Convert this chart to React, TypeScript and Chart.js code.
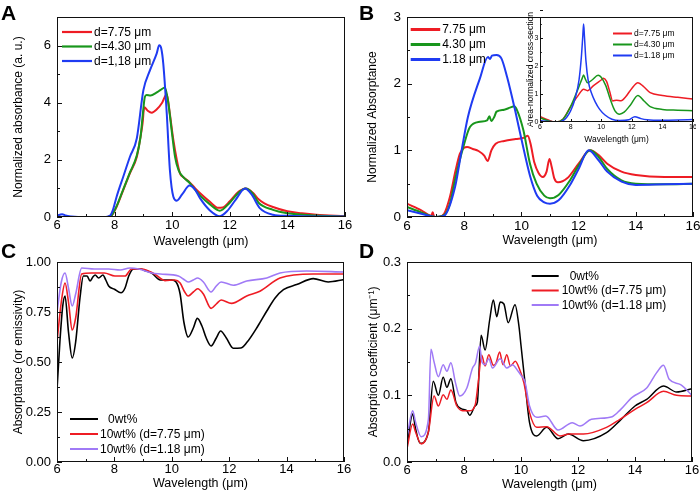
import React, { useEffect, useRef } from 'react';
import { Chart, registerables } from 'chart.js';
Chart.register(...registerables);

const FONT = '"Liberation Sans", Arial, Helvetica, sans-serif';
const RED = '#ee1c24';
const GREEN = '#18961c';
const BLUE = '#1f3bf2';
const PURPLE = '#a07af6';
const BLACK = '#000000';

// ---------- Panel A ----------
const aRedX = [6.0, 7.0, 7.75, 7.9, 8.07, 8.3, 8.53, 8.77, 8.88, 8.97, 9.03, 9.15, 9.29, 9.45, 9.65, 9.81, 9.92, 10.04, 10.16, 10.27, 10.4, 10.6, 10.8, 10.97, 11.3, 11.6, 11.75, 12.0, 12.3, 12.55, 12.8, 13.0, 13.2, 13.5, 14.0, 14.5, 15.0, 16.0];
const aRedY = [0.0, 0.0, 0.0, 0.06, 0.36, 0.94, 1.53, 2.1, 2.69, 3.27, 3.84, 3.72, 3.65, 3.75, 4.0, 4.3, 3.6, 2.7, 2.0, 1.53, 1.38, 1.22, 1.0, 0.83, 0.54, 0.32, 0.33, 0.55, 0.88, 1.0, 0.85, 0.62, 0.48, 0.35, 0.2, 0.13, 0.08, 0.03];
const aGreenX = [6.0, 7.0, 7.75, 7.9, 8.07, 8.3, 8.53, 8.77, 8.9, 8.98, 9.05, 9.11, 9.25, 9.45, 9.6, 9.75, 9.87, 9.98, 10.1, 10.22, 10.4, 10.6, 10.8, 10.97, 11.3, 11.65, 12.0, 12.3, 12.55, 12.8, 13.0, 13.5, 14.0, 15.0, 16.0];
const aGreenY = [0.0, 0.0, 0.0, 0.06, 0.38, 0.97, 1.55, 2.15, 2.8, 3.6, 4.2, 4.27, 4.25, 4.35, 4.45, 4.53, 3.95, 3.04, 2.1, 1.64, 1.38, 1.2, 0.95, 0.75, 0.45, 0.22, 0.5, 0.85, 1.0, 0.82, 0.5, 0.25, 0.13, 0.05, 0.02];
const aBlueX = [6.0, 6.1, 6.18, 6.3, 6.5, 7.0, 7.7, 7.85, 7.94, 8.07, 8.3, 8.53, 8.77, 9.0, 9.23, 9.46, 9.55, 9.62, 9.69, 9.81, 9.92, 10.04, 10.16, 10.35, 10.6, 10.8, 10.97, 11.3, 11.66, 11.9, 12.2, 12.53, 12.75, 13.05, 13.5, 14.0, 15.0, 16.0];
const aBlueY = [0.05, 0.08, 0.1, 0.05, 0.02, 0.0, 0.0, 0.05, 0.24, 0.71, 1.41, 2.1, 2.75, 4.44, 5.14, 5.72, 6.01, 5.9, 5.37, 3.64, 1.64, 0.71, 0.57, 0.8, 1.1, 0.95, 0.65, 0.24, 0.03, 0.2, 0.6, 1.0, 0.8, 0.3, 0.08, 0.04, 0.02, 0.02];
const aLabels = ['d=7.75 μm', 'd=4.30 μm', 'd=1,18 μm'];

// ---------- Panel B (main) ----------
const bRedX = [6.0, 6.5, 6.85, 6.9, 6.95, 7.1, 7.3, 7.5, 7.7, 7.85, 8.0, 8.1, 8.3, 8.5, 8.7, 8.82, 8.95, 9.1, 9.4, 9.8, 10.1, 10.22, 10.32, 10.45, 10.6, 10.75, 10.88, 10.98, 11.06, 11.15, 11.28, 11.6, 12.0, 12.4, 12.7, 13.0, 13.5, 14.0, 15.0, 16.0];
const bRedY = [0.2, 0.1, 0.02, 0.07, 0.0, 0.0, 0.05, 0.3, 0.7, 0.95, 1.04, 1.05, 1.02, 0.99, 0.92, 0.84, 1.0, 1.1, 1.14, 1.17, 1.19, 1.22, 1.1, 0.82, 0.66, 0.6, 0.68, 0.87, 0.75, 0.58, 0.52, 0.58, 0.8, 1.0, 0.93, 0.8, 0.68, 0.63, 0.6, 0.6];
const bGreenX = [6.0, 6.5, 7.0, 7.3, 7.5, 7.7, 7.97, 8.2, 8.55, 8.8, 8.88, 8.95, 9.05, 9.13, 9.4, 9.6, 9.75, 9.85, 10.07, 10.3, 10.53, 10.8, 11.0, 11.3, 11.7, 12.0, 12.4, 12.7, 13.0, 13.5, 14.0, 15.0, 16.0];
const bGreenY = [0.15, 0.07, 0.0, 0.03, 0.2, 0.6, 1.05, 1.35, 1.43, 1.45, 1.51, 1.44, 1.5, 1.58, 1.61, 1.64, 1.66, 1.6, 1.3, 0.8, 0.5, 0.32, 0.28, 0.33, 0.55, 0.77, 1.0, 0.9, 0.72, 0.55, 0.5, 0.49, 0.5];
const bBlueX = [6.0, 6.5, 7.0, 7.3, 7.68, 7.91, 8.13, 8.55, 8.83, 8.9, 8.97, 9.13, 9.3, 9.5, 9.78, 10.0, 10.3, 10.55, 10.8, 11.0, 11.3, 11.7, 12.0, 12.35, 12.7, 13.0, 13.5, 14.0, 15.0, 16.0];
const bBlueY = [0.1, 0.05, 0.0, 0.02, 0.45, 1.0, 1.5, 2.08, 2.4, 2.37, 2.42, 2.43, 2.38, 2.1, 1.6, 1.17, 0.62, 0.32, 0.22, 0.2, 0.25, 0.48, 0.72, 1.0, 0.85, 0.68, 0.53, 0.48, 0.49, 0.5];
const bLabels = ['7.75 μm', '4.30 μm', '1.18 μm'];

// ---------- Panel B (inset) ----------
const iRedX = [6.0, 6.5, 7.0, 7.5, 8.0, 8.5, 8.85, 9.1, 9.5, 10.0, 10.15, 10.35, 10.55, 10.75, 11.0, 11.3, 11.6, 12.0, 12.4, 12.8, 13.2, 14.0, 15.0, 16.0];
const iRedY = [0.2, 0.08, 0.0, 0.1, 0.55, 0.95, 1.17, 1.12, 1.3, 1.5, 1.56, 1.45, 1.1, 0.75, 0.78, 0.76, 0.9, 1.2, 1.4, 1.25, 1.05, 0.95, 0.88, 0.82];
const iGreenX = [6.0, 6.5, 7.0, 7.5, 8.0, 8.5, 8.75, 8.85, 8.95, 9.1, 9.4, 9.8, 10.0, 10.3, 10.6, 10.9, 11.2, 11.5, 11.9, 12.4, 12.8, 13.2, 14.0, 15.0, 16.0];
const iGreenY = [0.15, 0.05, 0.0, 0.1, 0.55, 1.2, 1.55, 1.68, 1.55, 1.4, 1.5, 1.67, 1.6, 1.3, 0.8, 0.4, 0.28, 0.35, 0.6, 0.95, 0.75, 0.55, 0.45, 0.42, 0.4];
const iBlueX = [6.0, 6.5, 7.0, 7.5, 8.0, 8.3, 8.55, 8.7, 8.8, 8.85, 8.9, 9.0, 9.16, 9.4, 9.6, 9.9, 10.25, 10.7, 11.2, 11.8, 12.2, 12.6, 13.0, 14.0, 15.0, 16.0];
const iBlueY = [0.05, 0.02, 0.0, 0.05, 0.4, 0.85, 1.5, 2.3, 3.1, 3.5, 3.1, 2.2, 1.44, 0.98, 0.73, 0.45, 0.25, 0.1, 0.05, 0.08, 0.19, 0.12, 0.08, 0.06, 0.07, 0.09];
const iLabels = ['d=7.75 μm', 'd=4.30 μm', 'd=1.18 μm'];

// ---------- Panel C ----------
const cBlackX = [6.0, 6.1, 6.2, 6.28, 6.4, 6.53, 6.65, 6.8, 6.92, 7.05, 7.15, 7.25, 7.33, 7.45, 7.6, 7.7, 7.8, 8.0, 8.23, 8.37, 8.5, 8.66, 8.9, 9.1, 9.3, 9.6, 10.0, 10.15, 10.29, 10.42, 10.57, 10.75, 10.89, 11.05, 11.2, 11.37, 11.55, 11.7, 11.9, 12.14, 12.4, 12.61, 13.0, 13.31, 13.6, 13.89, 14.35, 14.93, 15.45, 16.0];
const cBlackY = [0.36, 0.6, 0.78, 0.83, 0.65, 0.52, 0.6, 0.82, 0.93, 0.93, 0.905, 0.925, 0.935, 0.92, 0.935, 0.91, 0.88, 0.864, 0.846, 0.87, 0.93, 0.965, 0.965, 0.955, 0.945, 0.91, 0.91, 0.9, 0.84, 0.7, 0.625, 0.67, 0.718, 0.68, 0.62, 0.58, 0.62, 0.655, 0.62, 0.569, 0.57, 0.597, 0.68, 0.755, 0.82, 0.862, 0.887, 0.917, 0.9, 0.912];
const cRedX = [6.0, 6.15, 6.28, 6.4, 6.53, 6.65, 6.86, 7.2, 7.65, 8.02, 8.37, 8.6, 8.95, 9.4, 9.76, 10.1, 10.29, 10.45, 10.57, 10.75, 10.9, 11.1, 11.37, 11.55, 11.72, 12.08, 12.61, 13.07, 13.77, 14.93, 16.0];
const cRedY = [0.6, 0.8, 0.895, 0.8, 0.66, 0.72, 0.94, 0.945, 0.945, 0.93, 0.93, 0.965, 0.965, 0.94, 0.907, 0.91, 0.895, 0.85, 0.83, 0.85, 0.866, 0.84, 0.768, 0.79, 0.81, 0.793, 0.83, 0.854, 0.92, 0.94, 0.94];
const cPurpleX = [6.0, 6.15, 6.28, 6.4, 6.53, 6.65, 6.86, 7.3, 7.8, 8.2, 8.54, 8.85, 9.3, 9.6, 10.23, 10.4, 10.57, 10.75, 10.9, 11.1, 11.37, 11.55, 11.72, 12.14, 12.61, 13.31, 13.77, 14.7, 16.0];
const cPurpleY = [0.75, 0.9, 0.945, 0.87, 0.78, 0.84, 0.97, 0.965, 0.965, 0.96, 0.97, 0.965, 0.945, 0.94, 0.93, 0.915, 0.9, 0.91, 0.92, 0.9, 0.85, 0.88, 0.9, 0.884, 0.905, 0.92, 0.945, 0.955, 0.95];
const cdLabels = ['0wt%', '10wt% (d=7.75 μm)', '10wt% (d=1.18 μm)'];

// ---------- Panel D ----------
const dBlackX = [6.0, 6.2, 6.3, 6.46, 6.75, 6.92, 7.1, 7.27, 7.4, 7.54, 7.72, 7.9, 8.1, 8.2, 8.39, 8.47, 8.6, 8.74, 8.9, 9.03, 9.15, 9.27, 9.4, 9.55, 9.79, 9.93, 10.0, 10.14, 10.3, 10.55, 10.9, 11.3, 11.66, 12.19, 13.0, 13.47, 14.0, 14.41, 15.0, 15.46, 16.0];
const dBlackY = [0.024, 0.072, 0.05, 0.028, 0.045, 0.121, 0.1, 0.127, 0.112, 0.125, 0.089, 0.08, 0.077, 0.07, 0.084, 0.09, 0.19, 0.168, 0.213, 0.243, 0.218, 0.24, 0.237, 0.209, 0.236, 0.203, 0.175, 0.119, 0.059, 0.039, 0.052, 0.035, 0.042, 0.032, 0.044, 0.062, 0.084, 0.094, 0.114, 0.105, 0.11];
const dRedX = [6.0, 6.2, 6.3, 6.5, 6.75, 6.95, 7.1, 7.27, 7.4, 7.54, 7.75, 7.95, 8.2, 8.39, 8.5, 8.62, 8.74, 8.87, 9.03, 9.12, 9.25, 9.37, 9.5, 9.63, 9.8, 9.95, 10.1, 10.3, 10.55, 10.9, 11.37, 11.7, 12.19, 13.0, 13.47, 14.0, 14.41, 15.0, 15.46, 16.0];
const dRedY = [0.02, 0.057, 0.045, 0.027, 0.045, 0.099, 0.084, 0.101, 0.094, 0.108, 0.084, 0.077, 0.077, 0.085, 0.12, 0.16, 0.144, 0.161, 0.145, 0.148, 0.165, 0.146, 0.161, 0.144, 0.151, 0.139, 0.119, 0.074, 0.052, 0.053, 0.039, 0.042, 0.042, 0.052, 0.064, 0.079, 0.089, 0.106, 0.1, 0.099];
const dPurpleX = [6.0, 6.2, 6.3, 6.5, 6.75, 6.84, 6.95, 7.1, 7.27, 7.4, 7.54, 7.7, 7.85, 8.1, 8.3, 8.4, 8.55, 8.63, 8.74, 8.87, 9.0, 9.27, 9.5, 9.7, 9.9, 10.0, 10.14, 10.3, 10.55, 10.87, 11.3, 11.8, 12.07, 12.47, 13.2, 13.5, 13.9, 14.41, 14.76, 15.0, 15.2, 15.6, 16.0];
const dPurpleY = [0.037, 0.077, 0.06, 0.038, 0.064, 0.169, 0.15, 0.128, 0.146, 0.136, 0.149, 0.119, 0.099, 0.111, 0.141, 0.148, 0.174, 0.15, 0.146, 0.155, 0.141, 0.155, 0.141, 0.146, 0.136, 0.13, 0.12, 0.084, 0.067, 0.069, 0.048, 0.059, 0.054, 0.064, 0.068, 0.079, 0.097, 0.111, 0.134, 0.145, 0.124, 0.116, 0.1];

type Series = { label: string; x: number[]; y: number[]; color: string; width: number };
type Area = { l: number; t: number; r: number; b: number };
type LegendCfg = { x: number; y: number; rowH: number; len: number; gap: number; font: string; lineWidth: number; indent?: number[] };
type Spec = {
  left: number; top: number; width: number; height: number; area: Area;
  xMin: number; xMax: number; xStep: number; xMinor: number;
  yMin: number; yMax: number; yStep: number; yMinor: number; yDec: number;
  tickSize: number; xTickPad: number; yTickPad: number; tickLen: number;
  xTitle: string; yTitle: string; xTitleSize: number; yTitleSize: number; xTitlePad: number; yTitlePad: number;
  series: Series[]; legend: LegendCfg;
};

const pts = (x: number[], y: number[]) => x.map((v, i) => ({ x: v, y: y[i] }));

function framePlugin(spec: Spec) {
  return {
    id: 'frame',
    afterDraw(chart: any) {
      const { ctx, chartArea: a, scales } = chart;
      const xs = scales.x, ys = scales.y;
      ctx.save();
      ctx.strokeStyle = '#111';
      ctx.lineWidth = 1;
      ctx.strokeRect(Math.round(a.left) + 0.5, Math.round(a.top) + 0.5, Math.round(a.right - a.left) - 1, Math.round(a.bottom - a.top) - 1);
      ctx.beginPath();
      const nx = Math.round((spec.xMax - spec.xMin) / spec.xMinor);
      for (let i = 0; i <= nx; i++) {
        const v = spec.xMin + i * spec.xMinor;
        const maj = Math.abs(v / spec.xStep - Math.round(v / spec.xStep)) < 1e-6;
        const px = Math.round(xs.getPixelForValue(v)) + 0.5;
        const l = maj ? spec.tickLen : spec.tickLen * 0.6;
        ctx.moveTo(px, a.bottom);
        ctx.lineTo(px, a.bottom - l);
      }
      const ny = Math.round((spec.yMax - spec.yMin) / spec.yMinor);
      for (let i = 0; i <= ny; i++) {
        const v = spec.yMin + i * spec.yMinor;
        const maj = Math.abs(v / spec.yStep - Math.round(v / spec.yStep)) < 1e-6;
        const py = Math.round(ys.getPixelForValue(v)) + 0.5;
        const l = maj ? spec.tickLen : spec.tickLen * 0.6;
        ctx.moveTo(a.left, py);
        ctx.lineTo(a.left + l, py);
      }
      ctx.stroke();
      ctx.restore();
    },
  };
}

function legendPlugin(spec: Spec) {
  const L = spec.legend;
  return {
    id: 'inLegend',
    afterDraw(chart: any) {
      const ctx = chart.ctx;
      ctx.save();
      ctx.font = L.font;
      ctx.textBaseline = 'middle';
      ctx.textAlign = 'left';
      chart.data.datasets.forEach((ds: any, i: number) => {
        const y = L.y + i * L.rowH;
        ctx.strokeStyle = ds.borderColor;
        ctx.lineWidth = L.lineWidth;
        ctx.beginPath();
        ctx.moveTo(L.x, y);
        ctx.lineTo(L.x + L.len, y);
        ctx.stroke();
        ctx.fillStyle = '#000';
        ctx.fillText(ds.label, L.x + L.len + L.gap + ((L.indent && L.indent[i]) || 0), y + 0.5);
      });
      ctx.restore();
    },
  };
}

function zeroPad(s: any) {
  s.paddingLeft = 0; s.paddingRight = 0; s.paddingTop = 0; s.paddingBottom = 0;
}

function buildConfig(spec: Spec): any {
  const n = spec.series.length;
  return {
    type: 'line',
    data: {
      datasets: spec.series.map((s, i) => ({
        label: s.label,
        data: pts(s.x, s.y),
        borderColor: s.color,
        backgroundColor: s.color,
        borderWidth: s.width,
        pointRadius: 0,
        cubicInterpolationMode: 'monotone',
        fill: false,
        order: n - i,
      })),
    },
    options: {
      responsive: false,
      animation: false,
      devicePixelRatio: 1,
      events: [],
      layout: {
        autoPadding: false,
        padding: { left: 0, top: spec.area.t, right: spec.width - spec.area.r, bottom: 0 },
      },
      plugins: { legend: { display: false }, tooltip: { enabled: false }, title: { display: false } },
      scales: {
        x: {
          type: 'linear',
          min: spec.xMin,
          max: spec.xMax,
          grid: { display: false, drawTicks: false },
          border: { display: false },
          ticks: {
            stepSize: spec.xStep, includeBounds: false, autoSkip: false, maxRotation: 0,
            font: { family: FONT, size: spec.tickSize }, color: '#000', padding: spec.xTickPad,
          },
          title: {
            display: true, text: spec.xTitle, color: '#000',
            font: { family: FONT, size: spec.xTitleSize }, padding: { top: 0, bottom: spec.xTitlePad },
          },
          afterFit: (s: any) => { s.height = spec.height - spec.area.b; zeroPad(s); },
        },
        y: {
          type: 'linear',
          min: spec.yMin,
          max: spec.yMax,
          grid: { display: false, drawTicks: false },
          border: { display: false },
          ticks: {
            stepSize: spec.yStep, includeBounds: false, autoSkip: false,
            font: { family: FONT, size: spec.tickSize }, color: '#000', padding: spec.yTickPad,
            callback: (v: any) => Number(v).toFixed(spec.yDec),
          },
          title: {
            display: true, text: spec.yTitle, color: '#000',
            font: { family: FONT, size: spec.yTitleSize }, padding: { top: spec.yTitlePad, bottom: 0 },
          },
          afterFit: (s: any) => { s.width = spec.area.l; zeroPad(s); },
        },
      },
    },
    plugins: [framePlugin(spec), legendPlugin(spec)],
  };
}

const specA: Spec = {
  left: 0, top: 0, width: 354, height: 250, area: { l: 57, t: 17, r: 345, b: 217 },
  xMin: 6, xMax: 16, xStep: 2, xMinor: 1, yMin: 0, yMax: 7, yStep: 2, yMinor: 1, yDec: 0,
  tickSize: 13, xTickPad: 1, yTickPad: 6, tickLen: 5,
  xTitle: 'Wavelength (μm)', yTitle: 'Normalized absorbance (a. u.)', xTitleSize: 12.5, yTitleSize: 12, xTitlePad: 0.5, yTitlePad: 11.8,
  series: [
    { label: aLabels[0], x: aRedX, y: aRedY, color: RED, width: 2 },
    { label: aLabels[1], x: aGreenX, y: aGreenY, color: GREEN, width: 2 },
    { label: aLabels[2], x: aBlueX, y: aBlueY, color: BLUE, width: 2 },
  ],
  legend: { x: 62, y: 32, rowH: 14.5, len: 30, gap: 2, font: `12px ${FONT}`, lineWidth: 2.2 },
};

const specB: Spec = {
  left: 350, top: 0, width: 350, height: 250, area: { l: 57, t: 17, r: 343, b: 217 },
  xMin: 6, xMax: 16, xStep: 2, xMinor: 1, yMin: 0, yMax: 3, yStep: 1, yMinor: 0.5, yDec: 0,
  tickSize: 13.5, xTickPad: 1, yTickPad: 6, tickLen: 5,
  xTitle: 'Wavelength (μm)', yTitle: 'Normalized Absorptance', xTitleSize: 12.5, yTitleSize: 12, xTitlePad: 2, yTitlePad: 15.3,
  series: [
    { label: bLabels[0], x: bRedX, y: bRedY, color: RED, width: 2 },
    { label: bLabels[1], x: bGreenX, y: bGreenY, color: GREEN, width: 2 },
    { label: bLabels[2], x: bBlueX, y: bBlueY, color: BLUE, width: 2 },
  ],
  legend: { x: 60.7, y: 29.5, rowH: 15, len: 29.5, gap: 2, font: `12px ${FONT}`, lineWidth: 3 },
};

const specInset: Spec = {
  left: 520, top: 10, width: 176, height: 138, area: { l: 20, t: 7, r: 173, b: 112 },
  xMin: 6, xMax: 16, xStep: 2, xMinor: 1, yMin: 0, yMax: 3.75, yStep: 1, yMinor: 0.5, yDec: 0,
  tickSize: 7, xTickPad: 1, yTickPad: 1.5, tickLen: 3,
  xTitle: 'Wavelength (μm)', yTitle: 'Area-normalized cross-section', xTitleSize: 8.5, yTitleSize: 8.5, xTitlePad: 3, yTitlePad: 5.4,
  series: [
    { label: iLabels[0], x: iRedX, y: iRedY, color: RED, width: 1.5 },
    { label: iLabels[1], x: iGreenX, y: iGreenY, color: GREEN, width: 1.5 },
    { label: iLabels[2], x: iBlueX, y: iBlueY, color: BLUE, width: 1.5 },
  ],
  legend: { x: 93, y: 23.5, rowH: 11, len: 19, gap: 2, font: `8.5px ${FONT}`, lineWidth: 2 },
};

const specC: Spec = {
  left: 0, top: 245, width: 353, height: 252, area: { l: 57, t: 17, r: 344, b: 217 },
  xMin: 6, xMax: 16, xStep: 2, xMinor: 1, yMin: 0, yMax: 1, yStep: 0.25, yMinor: 0.125, yDec: 2,
  tickSize: 13, xTickPad: 0, yTickPad: 6, tickLen: 5,
  xTitle: 'Wavelength (μm)', yTitle: 'Absorptance (or emissivity)', xTitleSize: 12.5, yTitleSize: 12, xTitlePad: 5.5, yTitlePad: 11.8,
  series: [
    { label: cdLabels[0], x: cBlackX, y: cBlackY, color: BLACK, width: 1.6 },
    { label: cdLabels[1], x: cRedX, y: cRedY, color: RED, width: 1.6 },
    { label: cdLabels[2], x: cPurpleX, y: cPurpleY, color: PURPLE, width: 1.6 },
  ],
  legend: { x: 70, y: 174, rowH: 15, len: 28, gap: 2, font: `12px ${FONT}`, lineWidth: 2, indent: [8, 0, 0] },
};

const specD: Spec = {
  left: 350, top: 245, width: 350, height: 252, area: { l: 57, t: 17, r: 342, b: 217 },
  xMin: 6, xMax: 16, xStep: 2, xMinor: 1, yMin: 0, yMax: 0.3, yStep: 0.1, yMinor: 0.05, yDec: 1,
  tickSize: 13, xTickPad: 1, yTickPad: 6, tickLen: 5,
  xTitle: 'Wavelength (μm)', yTitle: 'Absorption coefficient (μm⁻¹)', xTitleSize: 12.5, yTitleSize: 12, xTitlePad: 5, yTitlePad: 16.5,
  series: [
    { label: cdLabels[0], x: dBlackX, y: dBlackY, color: BLACK, width: 1.5 },
    { label: cdLabels[1], x: dRedX, y: dRedY, color: RED, width: 1.5 },
    { label: cdLabels[2], x: dPurpleX, y: dPurpleY, color: PURPLE, width: 1.5 },
  ],
  legend: { x: 181.7, y: 31, rowH: 14.5, len: 27, gap: 3, font: `12px ${FONT}`, lineWidth: 2, indent: [8, 0, 0] },
};

function Panel({ spec }: { spec: Spec }) {
  const ref = useRef<HTMLCanvasElement>(null);
  useEffect(() => {
    if (!ref.current) return;
    const chart = new Chart(ref.current, buildConfig(spec));
    return () => chart.destroy();
  }, [spec]);
  return (
    <canvas
      ref={ref}
      width={spec.width}
      height={spec.height}
      style={{ position: 'absolute', left: spec.left, top: spec.top, width: spec.width, height: spec.height }}
    />
  );
}

const letterStyle = (left: number, top: number): React.CSSProperties => ({
  position: 'absolute', left, top, fontFamily: FONT, fontWeight: 'bold', fontSize: 21, lineHeight: '21px', color: '#000',
});

export default function App() {
  return (
    <div style={{ position: 'absolute', left: 0, top: 0, width: 700, height: 497, background: '#fff', overflow: 'hidden' }}>
      <Panel spec={specA} />
      <Panel spec={specB} />
      <Panel spec={specC} />
      <Panel spec={specD} />
      <Panel spec={specInset} />
      <div style={letterStyle(1, 2)}>A</div>
      <div style={letterStyle(359, 2)}>B</div>
      <div style={letterStyle(1, 240)}>C</div>
      <div style={letterStyle(359, 240)}>D</div>
    </div>
  );
}
